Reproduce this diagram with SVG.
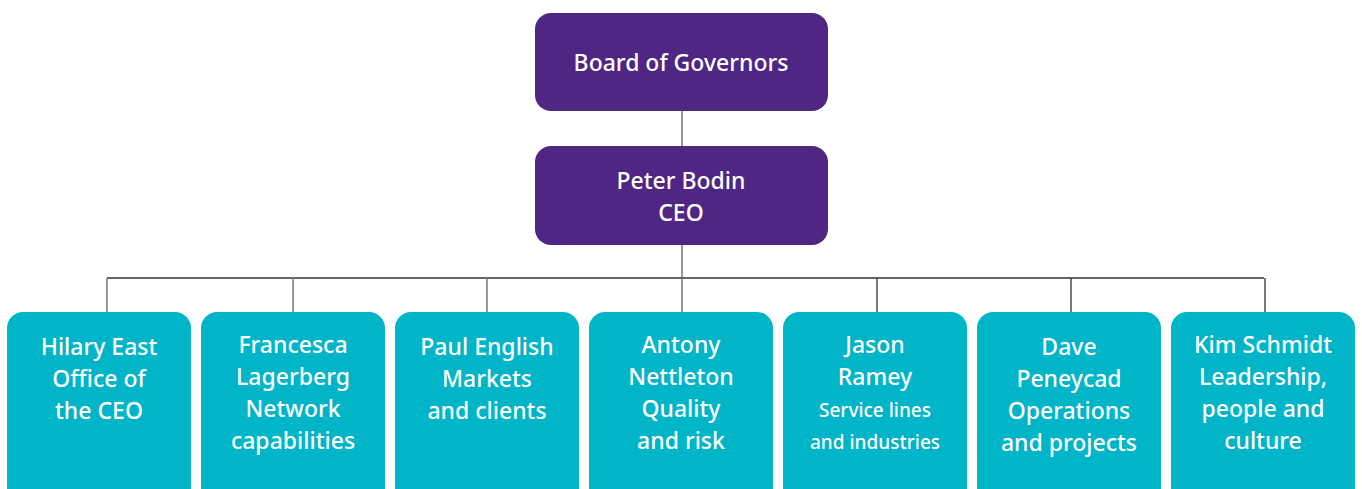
<svg xmlns="http://www.w3.org/2000/svg" width="1362" height="489" viewBox="0 0 1362 489">
<style>
.top{fill:#4f2683}
.sub{fill:#00b5c8}
.t{font-family:"Noto Sans",sans-serif;font-size:23px;font-weight:500;fill:#fff;text-anchor:middle}
.s{font-size:19px}
.c{stroke:#333;stroke-width:1.3;fill:none}
.g{stroke:#808080;stroke-width:1.6;fill:none}
</style>
<rect width="1362" height="489" fill="#fff"/>
<g id="connectors">
<path class="g" d="M682 111V146M682 245V278"/>
<path class="c" d="M107 278H1264"/>
<path class="g" d="M107 278V312M293 278V312M487 278V312M682 278V312"/>
<path class="c" d="M877 278V312M1071 278V312M1265 278V312"/>
</g>
<g id="board"><rect class="top" x="535" y="13" width="293" height="98" rx="16"/><text class="t" x="681" y="71">Board of Governors</text></g>
<g id="ceo"><rect class="top" x="535" y="146" width="293" height="99" rx="16"/><text class="t" x="681" y="189">Peter Bodin</text><text class="t" x="681" y="221">CEO</text></g>
<g id="hilary"><rect class="sub" x="7" y="312" width="184" height="200" rx="16"/><text class="t" x="99" y="355">Hilary East</text><text class="t" x="99" y="387">Office of</text><text class="t" x="99" y="419">the CEO</text></g>
<g id="francesca"><rect class="sub" x="201" y="312" width="184" height="200" rx="16"/><text class="t" x="293" y="353">Francesca</text><text class="t" x="293" y="385">Lagerberg</text><text class="t" x="293" y="417">Network</text><text class="t" x="293" y="449">capabilities</text></g>
<g id="paul"><rect class="sub" x="395" y="312" width="184" height="200" rx="16"/><text class="t" x="487" y="355">Paul English</text><text class="t" x="487" y="387">Markets</text><text class="t" x="487" y="419">and clients</text></g>
<g id="antony"><rect class="sub" x="589" y="312" width="184" height="200" rx="16"/><text class="t" x="681" y="353">Antony</text><text class="t" x="681" y="385">Nettleton</text><text class="t" x="681" y="417">Quality</text><text class="t" x="681" y="449">and risk</text></g>
<g id="jason"><rect class="sub" x="783" y="312" width="184" height="200" rx="16"/><text class="t" x="875" y="353">Jason</text><text class="t" x="875" y="385">Ramey</text><text class="t s" x="875" y="417">Service lines</text><text class="t s" x="875" y="449">and industries</text></g>
<g id="dave"><rect class="sub" x="977" y="312" width="184" height="200" rx="16"/><text class="t" x="1069" y="355">Dave</text><text class="t" x="1069" y="387">Peneycad</text><text class="t" x="1069" y="419">Operations</text><text class="t" x="1069" y="451">and projects</text></g>
<g id="kim"><rect class="sub" x="1171" y="312" width="184" height="200" rx="16"/><text class="t" x="1263" y="353">Kim Schmidt</text><text class="t" x="1263" y="385">Leadership,</text><text class="t" x="1263" y="417">people and</text><text class="t" x="1263" y="449">culture</text></g>
</svg>
